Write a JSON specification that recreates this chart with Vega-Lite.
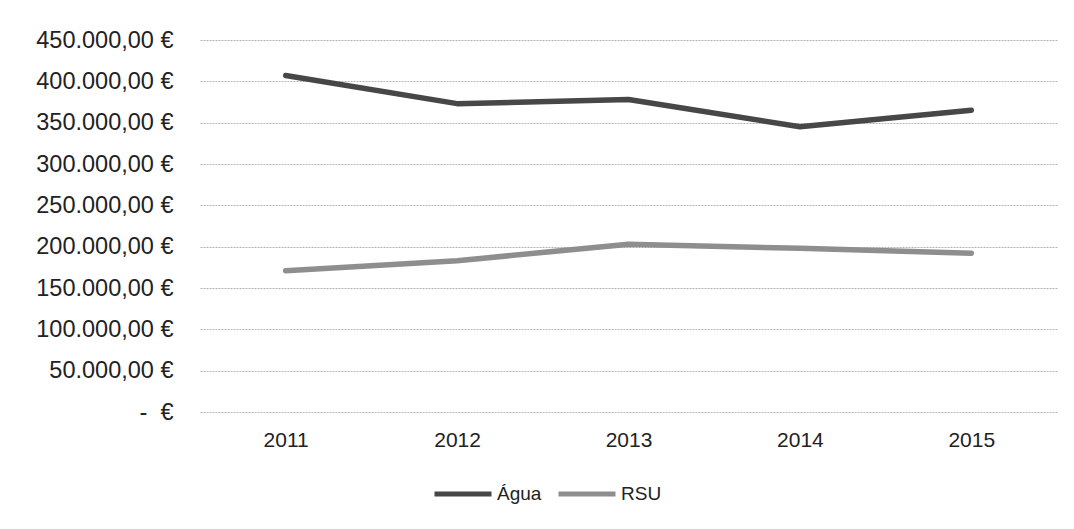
{
  "$schema": "https://vega.github.io/schema/vega-lite/v6.json",
  "width": 857,
  "height": 372,
  "autosize": {"type": "none"},
  "padding": {"left": 200, "top": 40, "right": 17, "bottom": 117},
  "background": "white",
  "data": {
    "values": [
      {"ano": "2011", "serie": "Água", "valor": 407000},
      {"ano": "2012", "serie": "Água", "valor": 373000},
      {"ano": "2013", "serie": "Água", "valor": 378000},
      {"ano": "2014", "serie": "Água", "valor": 345000},
      {"ano": "2015", "serie": "Água", "valor": 365000},
      {"ano": "2011", "serie": "RSU", "valor": 171000},
      {"ano": "2012", "serie": "RSU", "valor": 183000},
      {"ano": "2013", "serie": "RSU", "valor": 203000},
      {"ano": "2014", "serie": "RSU", "valor": 198000},
      {"ano": "2015", "serie": "RSU", "valor": 192000}
    ]
  },
  "mark": {"type": "line", "strokeWidth": 5.5, "strokeCap": "round", "strokeJoin": "round"},
  "encoding": {
    "x": {
      "field": "ano",
      "type": "ordinal",
      "scale": {"type": "point", "padding": 0.5},
      "axis": {
        "title": null,
        "labelAngle": 0,
        "domain": false,
        "ticks": false,
        "grid": false,
        "labelFont": "Liberation Sans",
        "labelFontSize": 21,
        "labelColor": "#222",
        "labelPadding": 17
      }
    },
    "y": {
      "field": "valor",
      "type": "quantitative",
      "scale": {"domain": [0, 450000], "nice": false},
      "axis": {
        "title": null,
        "values": [0, 50000, 100000, 150000, 200000, 250000, 300000, 350000, 400000, 450000],
        "labelExpr": "datum.value == 0 ? '-\u00a0\u00a0€' : replace(replace(replace(format(datum.value, ',.2f'), regexp(',', 'g'), 'X'), regexp('\\\\.', 'g'), ','), regexp('X', 'g'), '.') + ' €'",
        "domain": false,
        "ticks": false,
        "grid": true,
        "gridColor": "#b5b5b5",
        "gridWidth": 1,
        "gridDash": [2, 1],
        "labelFont": "Liberation Sans",
        "labelFontSize": 23.5,
        "labelColor": "#222",
        "labelPadding": 27
      }
    },
    "color": {
      "field": "serie",
      "type": "nominal",
      "scale": {"domain": ["Água", "RSU"], "range": ["#474747", "#8e8e8e"]},
      "legend": {
        "title": null,
        "orient": "none",
        "direction": "horizontal",
        "legendX": 232,
        "legendY": 423,
        "symbolType": "stroke",
        "symbolSize": 3249,
        "symbolStrokeWidth": 5,
        "labelFont": "Liberation Sans",
        "labelFontSize": 19,
        "labelColor": "#222",
        "labelOffset": 3,
        "columnPadding": 6
      }
    }
  },
  "config": {"view": {"stroke": null}}
}
